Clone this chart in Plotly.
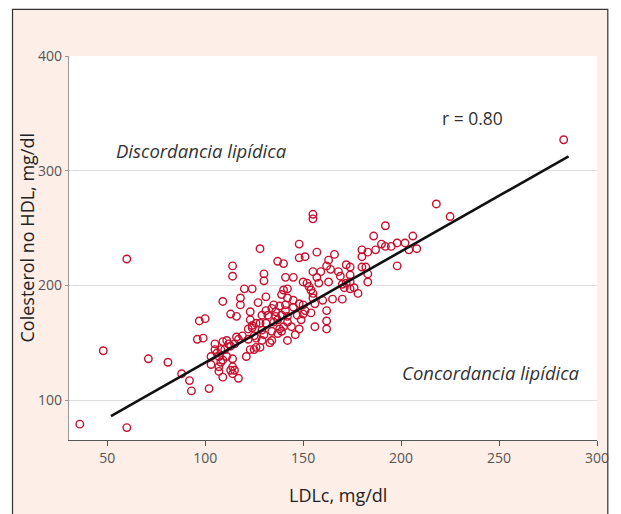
import plotly.graph_objects as go

# Data (LDLc, non-HDL cholesterol), mg/dl
ldl = [36, 60, 48, 60, 71, 81, 88, 92, 93, 102, 96, 99, 97, 100, 109, 118, 113, 116, 123,
       114, 114, 120, 124, 118, 127, 128, 130, 130, 137, 140, 148, 148, 151, 155, 155, 157,
       166, 163, 162, 164, 172, 141, 145, 155, 159, 157, 168, 169, 163, 150, 152, 153, 154,
       155, 155, 158, 170, 172, 171, 174, 176, 178, 140, 142, 139, 142, 131, 165, 170, 160,
       145, 148, 150, 154, 162, 162, 162, 156, 138, 141, 145, 147, 150, 149, 148, 146, 142,
       138, 139, 137, 144, 218, 225, 283, 192, 186, 206, 190, 192, 195, 198, 202, 180, 183,
       187, 180, 204, 208, 198, 180, 182, 174, 183, 183, 174, 174, 123, 124, 126, 122, 124,
       105, 109, 111, 112, 116, 117, 119, 122, 125, 126, 105, 108, 110, 106, 113, 115, 123,
       125, 126, 103, 107, 109, 111, 121, 103, 108, 107, 114, 114, 113, 115, 114, 117, 107,
       109, 135, 141, 156, 131, 134, 136, 151, 129, 132, 136, 139, 142, 128, 131, 135, 142,
       129, 134, 137, 130, 129, 133, 134, 128, 140]
nohdl = [79, 76, 143, 223, 136, 133, 123, 117, 108, 110, 153, 154, 169, 171, 186, 183, 175,
         173, 177, 217, 208, 197, 197, 189, 185, 232, 210, 204, 221, 219, 236, 224, 225, 262,
         258, 229, 227, 222, 217, 214, 218, 207, 207, 212, 212, 207, 212, 208, 203, 203, 202,
         199, 196, 193, 189, 202, 201, 202, 198, 197, 198, 193, 196, 197, 192, 189, 190, 188,
         188, 187, 187, 184, 183, 176, 178, 169, 162, 164, 182, 178, 181, 174, 175, 170, 162,
         157, 152, 162, 160, 170, 164, 271, 260, 327, 252, 243, 243, 236, 234, 234, 237, 237,
         231, 229, 231, 225, 231, 232, 217, 216, 216, 216, 210, 203, 209, 203, 170, 165, 167,
         162, 163, 149, 151, 152, 149, 155, 153, 156, 153, 156, 154, 144, 144, 144, 141, 147,
         149, 144, 144, 146, 138, 138, 135, 138, 138, 131, 133, 129, 136, 129, 126, 126, 123,
         119, 125, 120, 183, 183, 184, 178, 180, 177, 178, 174, 174, 173, 174, 173, 167, 167,
         168, 168, 161, 160, 158, 157, 152, 150, 152, 146, 164]

# Regression line end points
fit_x = [51.9, 285.5]
fit_y = [86.1, 312.5]

x_ticks = [50, 100, 150, 200, 250, 300]
y_ticks = [100, 200, 300, 400]

RED = "#c8102e"
CREAM = "#fdeee7"

fig = go.Figure()
fig.add_trace(go.Scatter(
    x=ldl, y=nohdl, mode="markers",
    marker=dict(symbol="circle-open", size=7.5, color=RED, line=dict(width=1.4, color=RED)),
    hoverinfo="skip", showlegend=False))
fig.add_trace(go.Scatter(
    x=fit_x, y=fit_y, mode="lines",
    line=dict(color="#111111", width=2.6), hoverinfo="skip", showlegend=False))

FONT = "'Open Sans', Lato, sans-serif"

L, R = 60.5, 15
W = 613
pw = W - L - R
# cream frame edges in figure pixels: left 3, right 609
fx0 = (3 - L) / pw
fx1 = (609 - L) / pw

fig.update_layout(
    width=W, height=506,
    margin=dict(l=L, r=R, t=47.7, b=74),
    paper_bgcolor="white",
    plot_bgcolor="rgba(0,0,0,0)",
    font=dict(family=FONT, color="#555555"),
    shapes=[
        dict(type="rect", xref="paper", yref="paper", x0=fx0, x1=fx1,
             y0=-0.25, y1=1.1215, fillcolor=CREAM, line=dict(color="#333333", width=1.2),
             layer="below"),
        dict(type="rect", xref="paper", yref="paper", x0=0, x1=1, y0=0, y1=1,
             fillcolor="white", line=dict(width=0), layer="below"),
    ],
    xaxis=dict(
        range=[30.5, 300], tickvals=x_ticks, showgrid=False, zeroline=False,
        showline=True, linecolor="#555555", linewidth=1.2,
        ticks="outside", ticklen=5, tickcolor="#555555",
        tickfont=dict(size=14, color="#555555", family=FONT),
    ),
    yaxis=dict(
        range=[65.2, 400], tickvals=y_ticks, showgrid=True, gridcolor="#dddddd",
        gridwidth=1, zeroline=False, showline=True, linecolor="#999999", linewidth=1.2,
        ticks="outside", ticklen=3, tickcolor="#999999",
        tickfont=dict(size=14, color="#555555", family=FONT),
    ),
    annotations=[
        dict(x=0.5, y=0, xref="paper", yref="paper", xshift=5, yshift=-55,
             xanchor="center", yanchor="middle", text="LDLc, mg/dl", showarrow=False,
             font=dict(size=18, color="#222222", family=FONT)),
        dict(x=0, y=0.5, xref="paper", yref="paper", xshift=-42.5, yshift=10,
             xanchor="center", yanchor="middle", textangle=-90,
             text="Colesterol no HDL, mg/dl", showarrow=False,
             font=dict(size=18, color="#222222", family=FONT)),
        dict(x=236.3, y=345.6, xref="x", yref="y", text="r = 0.80", showarrow=False,
             font=dict(size=17.5, color="#333333", family=FONT)),
        dict(x=98.2, y=317.8, xref="x", yref="y", text="<i>Discordancia lipídica</i>",
             showarrow=False, font=dict(size=18.5, color="#333333", family=FONT)),
        dict(x=246, y=124.4, xref="x", yref="y", text="<i>Concordancia lipídica</i>",
             showarrow=False, font=dict(size=18.5, color="#333333", family=FONT)),
    ],
)

fig.write_html("out.html")
